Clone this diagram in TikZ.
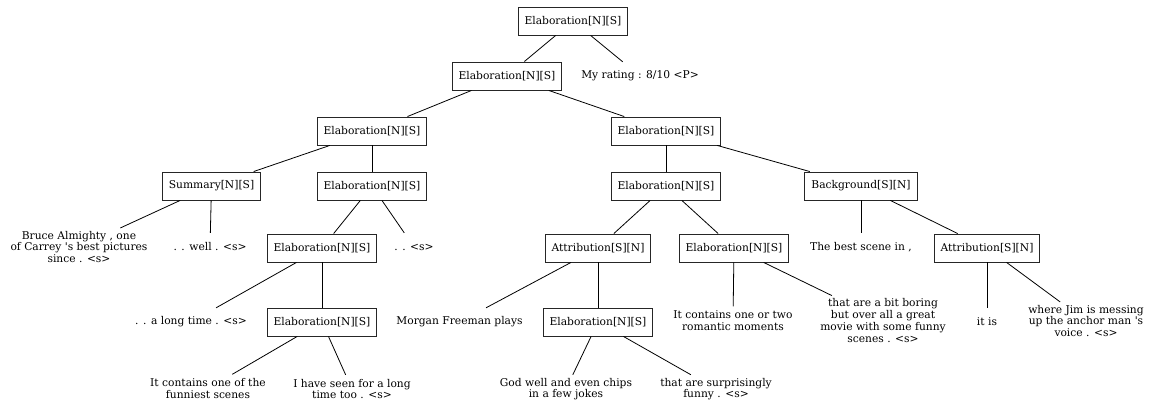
\documentclass[tikz,border=0pt]{standalone}
\usepackage{fontspec}
\setmainfont{DejaVu Serif}
\usepackage{tikz}

\begin{document}
\begin{tikzpicture}[x=1pt,y=-1pt,
  font=\fontsize{10.7}{11.7}\selectfont,
  rel/.style={draw=black!85,line width=0.9pt,inner xsep=6.5pt,minimum height=28pt},
  foglia/.style={inner sep=3pt,minimum height=28pt,align=center},
  arco/.style={line width=0.8pt}]

\useasboundingbox (0,0) rectangle (1152,403);

% Relazioni
\node[rel] (root) at (573,21) {Elaboration[N][S]};
\node[rel] (a) at (507,76) {Elaboration[N][S]};
\node[rel] (b) at (372,131) {Elaboration[N][S]};
\node[rel] (c) at (666,131) {Elaboration[N][S]};
\node[rel] (sum) at (211.5,186) {Summary[N][S]};
\node[rel] (d) at (372,186) {Elaboration[N][S]};
\node[rel] (e) at (666,186) {Elaboration[N][S]};
\node[rel] (bg) at (861,186) {Background[S][N]};
\node[rel] (f) at (322,248) {Elaboration[N][S]};
\node[rel] (att1) at (598,248) {Attribution[S][N]};
\node[rel] (g) at (734,248) {Elaboration[N][S]};
\node[rel] (att2) at (987,248) {Attribution[S][N]};
\node[rel] (h) at (322,322) {Elaboration[N][S]};
\node[rel] (i) at (598,322) {Elaboration[N][S]};

% Foglie (EDU)
\node[foglia] (rating) at (640,76) {My rating : 8/10 <P>};
\node[foglia] (bruce) at (79,247) {Bruce Almighty , one\\of Carrey \textquotesingle s best pictures\\since . <s>};
\node[foglia] (well) at (210,247) {. . well . <s>};
\node[foglia] (dots) at (414,247) {. . <s>};
\node[foglia] (best) at (861,247) {The best scene in ,};
\node[foglia] (longtime) at (191,322) {. . a long time . <s>};
\node[foglia] (morgan) at (459.5,322) {Morgan Freeman plays};
\node[foglia] (romantic) at (733,320.5) {It contains one or two\\romantic moments};
\node[foglia] (boring) at (883,320.5) {that are a bit boring\\but over all a great\\movie with some funny\\scenes . <s>};
\node[foglia] (itis) at (987,322) {it is};
\node[foglia] (jim) at (1086,321) {where Jim is messing\\up the anchor man \textquotesingle s\\voice . <s>};
\node[foglia] (funniest) at (208,388.5) {It contains one of the\\funniest scenes};
\node[foglia] (seen) at (352,389) {I have seen for a long\\time too . <s>};
\node[foglia] (god) at (566,389) {God well and even chips\\in a few jokes};
\node[foglia] (funny) at (716,389) {that are surprisingly\\funny . <s>};

% Archi
\draw[arco] (root) -- (a);
\draw[arco] (root) -- (rating);
\draw[arco] (a) -- (b);
\draw[arco] (a) -- (c);
\draw[arco] (b) -- (sum);
\draw[arco] (b) -- (d);
\draw[arco] (sum) -- (bruce);
\draw[arco] (sum) -- (well);
\draw[arco] (d) -- (f);
\draw[arco] (d) -- (dots);
\draw[arco] (f) -- (longtime);
\draw[arco] (f) -- (h);
\draw[arco] (h) -- (funniest);
\draw[arco] (h) -- (seen);
\draw[arco] (c) -- (e);
\draw[arco] (c) -- (bg);
\draw[arco] (e) -- (att1);
\draw[arco] (e) -- (g);
\draw[arco] (att1) -- (morgan);
\draw[arco] (att1) -- (i);
\draw[arco] (i) -- (god);
\draw[arco] (i) -- (funny);
\draw[arco] (g) -- (romantic);
\draw[arco] (g) -- (boring);
\draw[arco] (bg) -- (best);
\draw[arco] (bg) -- (att2);
\draw[arco] (att2) -- (itis);
\draw[arco] (att2) -- (jim);
\end{tikzpicture}
\end{document}
